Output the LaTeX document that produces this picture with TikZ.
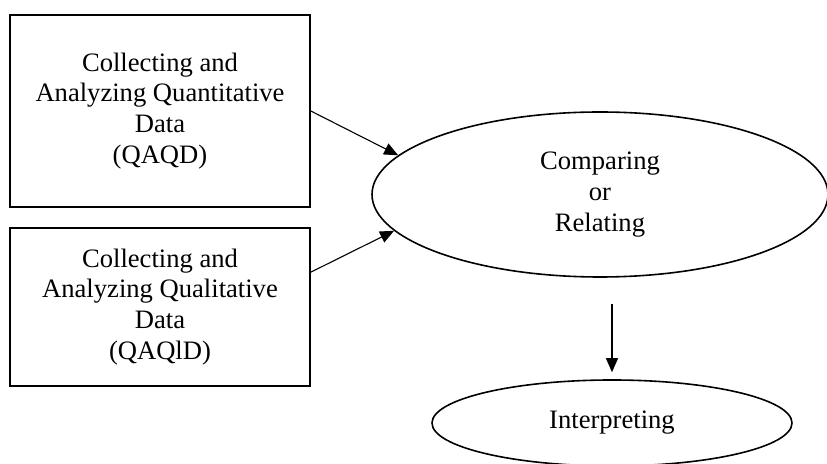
\documentclass[tikz,border=0pt]{standalone}
\usepackage{fontspec}
\setmainfont{Liberation Serif}
\usetikzlibrary{shapes.geometric, arrows.meta}

\begin{document}
\begin{tikzpicture}[x=0.5pt, y=-0.5pt,
  font=\fontsize{13.3}{15.4}\selectfont,
  databox/.style={draw, line width=0.8pt, minimum width=150pt, minimum height=96pt, align=center, inner sep=0pt},
  stage/.style={ellipse, draw, line width=0.8pt, align=center, inner sep=0pt},
  flow/.style={-{Triangle[length=7pt, width=6pt]}, line width=0.55pt}
]
  \useasboundingbox (0,0) rectangle (827,464);

  \node[databox] (qaqd) at (160,111) {Collecting and\\Analyzing Quantitative\\Data\\(QAQD)};
  \node[databox, minimum height=79pt] (qaqld) at (160,307) {Collecting and\\Analyzing Qualitative\\Data\\(QAQlD)};
  \node[stage, minimum width=228pt, minimum height=82.5pt] (cmp) at (600,194.5) {Comparing\\or\\Relating};
  \node[stage, minimum width=180pt, minimum height=43pt] (itp) at (612,423) {Interpreting};

  \draw[flow] (qaqd.east) -- (cmp.169);
  \draw[flow] (qaqld.13) -- (cmp.190);
  \draw[flow, shorten <=13pt, shorten >=3.5pt] (itp.north |- cmp.south) -- (itp.north);
\end{tikzpicture}
\end{document}
